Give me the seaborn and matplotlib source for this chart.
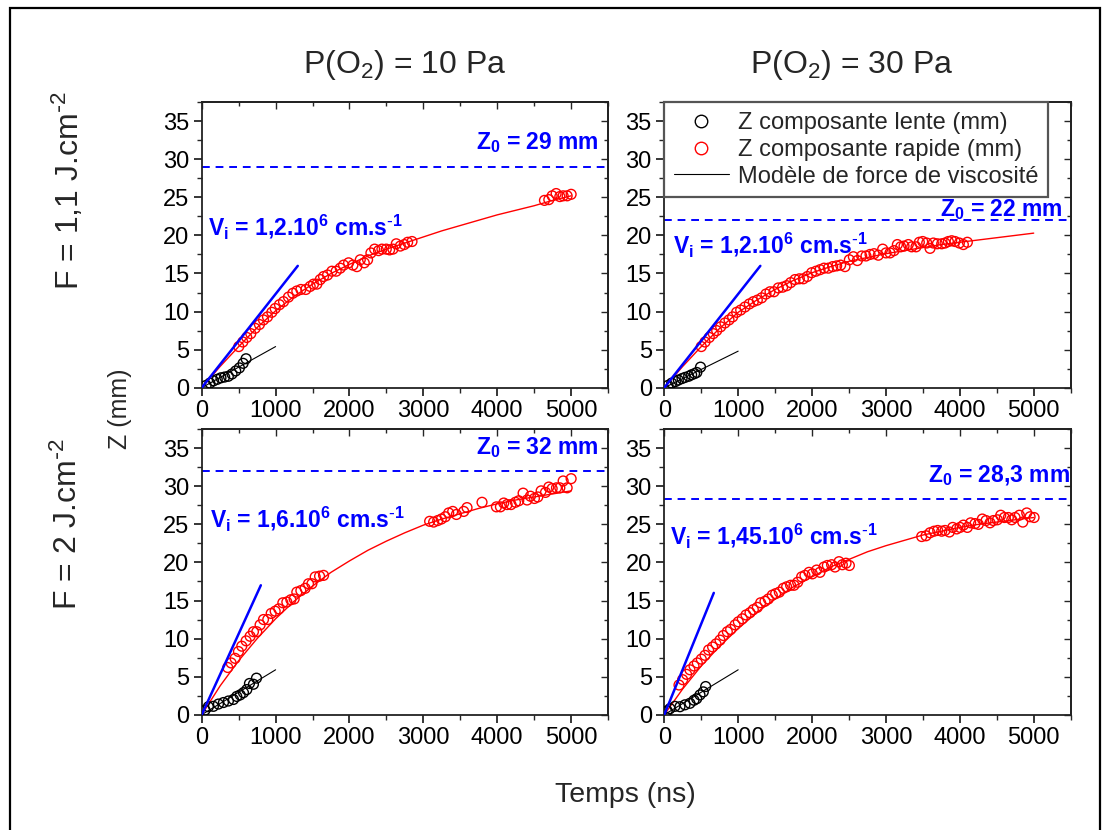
import matplotlib
matplotlib.use("Agg")
import matplotlib.pyplot as plt
from matplotlib.lines import Line2D
from matplotlib.patches import Rectangle
from matplotlib.ticker import MultipleLocator
import seaborn as sns

# values: time in ns, Z in mm
# panels: a = 10 Pa / 1,1 J.cm-2, b = 30 Pa / 1,1 J.cm-2,
#         c = 10 Pa / 2 J.cm-2,   d = 30 Pa / 2 J.cm-2

# slow component (open black circles)
a_lente_t = [60, 110, 160, 210, 260, 310, 360, 410, 460, 510, 560, 600]
a_lente_z = [0.3, 0.6, 0.9, 1.1, 1.3, 1.4, 1.5, 1.8, 2.2, 2.6, 3.2, 3.8]
b_lente_t = [50, 100, 150, 190, 240, 280, 330, 370, 410, 440, 490]
b_lente_z = [0.3, 0.6, 0.8, 1.0, 1.2, 1.35, 1.5, 1.7, 1.85, 2.0, 2.7]
c_lente_t = [45, 90, 158, 226, 294, 361, 429, 474, 520, 565, 610, 646, 700, 741]
c_lente_z = [0.6, 1.05, 1.1, 1.4, 1.6, 1.8, 2.0, 2.4, 2.6, 2.9, 3.3, 4.1, 4.0, 4.8]
d_lente_t = [40, 77, 144, 212, 280, 347, 402, 438, 483, 528, 560]
d_lente_z = [0.5, 0.8, 1.1, 1.05, 1.3, 1.5, 1.9, 2.1, 2.6, 3.0, 3.7]

# fast component (open red circles)
a_rapide_t = [501, 556, 610, 664, 723, 781, 836, 890, 949, 994, 1052, 1107, 1174,
              1233, 1287, 1342, 1409, 1468, 1513, 1558, 1604, 1649, 1703, 1762,
              1820, 1875, 1920, 1988, 2046, 2100, 2146, 2200, 2245, 2290, 2340,
              2394, 2439, 2498, 2543, 2588, 2633, 2688, 2742, 2787, 2846,
              4639, 4698, 4743, 4797, 4847, 4892, 4946, 5000]
a_rapide_z = [5.4, 6.0, 6.6, 7.1, 7.8, 8.3, 8.9, 9.3, 9.9, 10.4, 10.9, 11.3, 11.9,
              12.4, 12.7, 12.9, 12.9, 13.3, 13.6, 13.6, 14.2, 14.6, 14.8, 15.3,
              15.3, 15.7, 16.1, 16.4, 16.1, 15.9, 16.8, 16.4, 16.8, 17.7, 18.2,
              18.0, 18.2, 18.2, 18.1, 18.2, 18.9, 18.6, 18.8, 19.1, 19.2,
              24.6, 24.7, 25.2, 25.5, 25.1, 25.2, 25.2, 25.4]
b_rapide_t = [501, 551, 609, 663, 709, 763, 821, 876, 925, 979, 1034, 1092, 1151,
              1205, 1259, 1318, 1376, 1431, 1485, 1543, 1602, 1656, 1710, 1769,
              1828, 1882, 1936, 1995, 2053, 2108, 2162, 2220, 2279, 2333, 2387,
              2446, 2505, 2559, 2613, 2672, 2730, 2785, 2839, 2897, 2956, 3001,
              3055, 3109, 3155, 3200, 3245, 3303, 3349, 3407, 3452, 3498, 3552,
              3597, 3642, 3696, 3755, 3800, 3845, 3890, 3935, 3994, 4048, 4102]
b_rapide_z = [5.4, 6.0, 6.6, 7.1, 7.5, 8.0, 8.5, 8.9, 9.3, 9.9, 10.2, 10.6, 11.0,
              11.3, 11.5, 11.8, 12.3, 12.6, 12.6, 13.1, 13.2, 13.4, 13.8, 14.2,
              14.3, 14.3, 14.6, 15.1, 15.3, 15.5, 15.7, 15.7, 15.9, 16.0, 16.1,
              15.9, 16.8, 17.2, 16.7, 17.3, 17.3, 17.5, 17.6, 17.4, 18.2, 17.7,
              17.7, 18.0, 18.8, 18.5, 18.6, 18.8, 18.5, 18.5, 19.1, 19.2, 19.0,
              18.3, 19.0, 18.9, 18.9, 19.0, 19.2, 19.3, 19.2, 19.0, 18.8, 19.1]
c_rapide_t = [352, 398, 452, 497, 542, 601, 655, 700, 745, 790, 836, 894, 940,
              994, 1043, 1098, 1152, 1206, 1251, 1287, 1342, 1400, 1445, 1491,
              1536, 1595, 1649,
              3085, 3139, 3194, 3243, 3297, 3343, 3397, 3447, 3546, 3591, 3794,
              3989, 4043, 4088, 4133, 4187, 4246, 4291, 4350, 4404, 4449, 4503,
              4549, 4594, 4653, 4698, 4743, 4802, 4847, 4892, 4946, 5000]
c_rapide_z = [6.2, 6.8, 7.4, 8.3, 9.0, 9.7, 10.3, 10.9, 10.9, 11.8, 12.5, 12.5, 13.3,
              13.6, 13.9, 14.7, 14.8, 15.1, 15.2, 16.1, 16.3, 16.6, 17.2, 17.2,
              18.1, 18.2, 18.3,
              25.4, 25.3, 25.5, 25.7, 26.0, 26.5, 26.7, 26.3, 26.7, 27.2, 27.9,
              27.3, 27.3, 27.8, 27.6, 27.6, 27.9, 28.1, 29.1, 28.2, 28.7, 28.4,
              28.6, 29.4, 29.2, 29.9, 29.7, 29.8, 29.8, 30.7, 29.8, 31.0]
d_rapide_t = [199, 248, 302, 347, 402, 447, 501, 551, 600, 654, 700, 754, 799,
              853, 898, 958, 1002, 1056, 1106, 1160, 1205, 1259, 1304, 1363,
              1408, 1462, 1507, 1557, 1611, 1656, 1710, 1756, 1805, 1859, 1904,
              1959, 2004, 2062, 2107, 2162, 2207, 2265, 2311, 2365, 2410, 2460, 2505,
              3484, 3543, 3597, 3651, 3701, 3755, 3800, 3859, 3904, 3958, 4003,
              4048, 4102, 4147, 4206, 4251, 4305, 4355, 4409, 4454, 4508, 4554,
              4603, 4657, 4703, 4748, 4806, 4852, 4906, 4951, 5005]
d_rapide_z = [3.9, 4.6, 5.3, 5.9, 6.4, 6.8, 7.3, 7.8, 8.5, 8.9, 9.3, 9.8, 10.4,
              10.9, 11.2, 11.8, 12.2, 12.6, 13.1, 13.4, 13.8, 14.1, 14.7, 14.9,
              15.2, 15.7, 15.9, 16.1, 16.6, 16.8, 17.0, 17.0, 17.4, 18.1, 18.3,
              18.7, 18.5, 19.0, 18.7, 19.4, 19.6, 19.7, 19.4, 20.1, 19.7, 19.9, 19.6,
              23.4, 23.5, 23.9, 24.1, 24.2, 24.1, 24.2, 24.0, 24.6, 24.4, 24.6,
              24.9, 24.6, 25.2, 25.1, 25.0, 25.7, 25.5, 25.2, 25.5, 25.6, 26.2,
              25.9, 25.9, 25.6, 25.9, 26.2, 25.3, 26.5, 26.0, 25.9]

# viscous-force model curves (red), read every 250 ns
fit_t = [0, 250, 500, 750, 1000, 1250, 1500, 1750, 2000, 2250, 2500,
         2750, 3000, 3250, 3500, 3750, 4000, 4250, 4500, 4750, 5000]
a_fit_z = [0, 2.8, 5.4, 7.9, 10.1, 12.0, 13.6, 15.0, 16.2, 17.3, 18.2,
           19.0, 19.8, 20.6, 21.3, 22.0, 22.7, 23.3, 23.9, 24.6, 25.2]
b_fit_z = [0, 2.8, 5.4, 7.8, 9.9, 11.5, 12.9, 14.1, 15.1, 15.9, 16.6,
           17.1, 17.6, 18.0, 18.4, 18.8, 19.1, 19.4, 19.7, 20.0, 20.3]
c_fit_z = [0, 3.8, 7.1, 10.0, 12.6, 14.9, 16.9, 18.7, 20.2, 21.6, 22.8,
           23.9, 24.9, 25.7, 26.4, 27.1, 27.7, 28.2, 28.6, 29.0, 29.4]
d_fit_z = [0, 3.4, 6.4, 9.0, 11.3, 13.4, 15.2, 16.8, 18.1, 19.4, 20.4,
           21.4, 22.2, 22.9, 23.6, 24.1, 24.6, 25.0, 25.3, 25.6, 25.9]

# straight lines: initial velocity (blue) and slow component model (black)
vi_t = [[0, 1300], [0, 1300], [0, 800], [0, 670]]
vi_z = [[0, 16.0], [0, 16.0], [0, 17.0], [0, 16.0]]
slow_t = [[0, 1000], [0, 1000], [0, 1000], [0, 1000]]
slow_z = [[0, 5.4], [0, 4.8], [0, 5.9], [0, 5.9]]

z0_values = [29, 22, 32, 28.3]
z0_labels = ["29 mm", "22 mm", "32 mm", "28,3 mm"]
vi_labels = ["1,2", "1,2", "1,6", "1,45"]

col_titles = [r"P(O$_2$) = 10 Pa", r"P(O$_2$) = 30 Pa"]
row_titles = [r"F = 1,1 J.cm$^{\text{-}2}$", r"F = 2 J.cm$^{\text{-}2}$"]

lente_t = [a_lente_t, b_lente_t, c_lente_t, d_lente_t]
lente_z = [a_lente_z, b_lente_z, c_lente_z, d_lente_z]
rapide_t = [a_rapide_t, b_rapide_t, c_rapide_t, d_rapide_t]
rapide_z = [a_rapide_z, b_rapide_z, c_rapide_z, d_rapide_z]
fit_z = [a_fit_z, b_fit_z, c_fit_z, d_fit_z]

# label anchors (data coords): Z0 text right end, Vi text left start
z0_pos = [(5375, 31.3), (5400, 22.5), (5375, 34.25), (5490, 30.5)]
vi_pos = [(90, 20.0), (120, 17.7), (110, 24.7), (75, 22.4)]

sns.set_style("ticks")
plt.rcParams["font.family"] = ["Liberation Sans", "DejaVu Sans"]
plt.rcParams["mathtext.default"] = "regular"

fig = plt.figure(figsize=(11.09, 8.30), dpi=100)

# axes rectangles in figure fractions
lefts = [0.1819, 0.5990, 0.1819, 0.5990]
bottoms = [0.5329, 0.5329, 0.1389, 0.1389]
w, h = 0.3664, 0.3440

blue = "#0000ff"
for i in range(4):
    ax = fig.add_axes([lefts[i], bottoms[i], w, h])

    ax.axhline(z0_values[i], color=blue, lw=1.4, dashes=(4, 3), zorder=1)
    sns.lineplot(x=fit_t, y=fit_z[i], ax=ax, color="red", lw=1.0,
                 estimator=None, sort=False, zorder=2)
    sns.lineplot(x=slow_t[i], y=slow_z[i], ax=ax, color="black", lw=0.8,
                 estimator=None, sort=False, zorder=2)
    sns.lineplot(x=vi_t[i], y=vi_z[i], ax=ax, color=blue, lw=1.8,
                 estimator=None, sort=False, zorder=4)
    sns.scatterplot(x=rapide_t[i], y=rapide_z[i], ax=ax, marker="o", s=50,
                    facecolor="none", edgecolor="red", linewidth=1.0, zorder=3)
    sns.scatterplot(x=lente_t[i], y=lente_z[i], ax=ax, marker="o", s=50,
                    facecolor="none", edgecolor="black", linewidth=1.0, zorder=3)

    ax.text(z0_pos[i][0], z0_pos[i][1], "Z$_0$ = " + z0_labels[i], color=blue,
            fontsize=16.5, fontweight="bold", ha="right", va="baseline", zorder=5)
    ax.text(vi_pos[i][0], vi_pos[i][1],
            "V$_i$ = " + vi_labels[i] + r".10$^6$ cm.s$^{\text{-}1}$", color=blue,
            fontsize=16.5, fontweight="bold", ha="left", va="baseline", zorder=5)

    ax.set_xlim(0, 5500)
    ax.set_ylim(0, 37.5)
    ax.set_xticks([0, 1000, 2000, 3000, 4000, 5000])
    ax.set_yticks([0, 5, 10, 15, 20, 25, 30, 35])
    ax.xaxis.set_minor_locator(MultipleLocator(500))
    ax.yaxis.set_minor_locator(MultipleLocator(2.5))
    ax.tick_params(which="major", direction="out", length=6, width=1.1,
                   labelsize=17, pad=3, colors="black")
    ax.tick_params(which="minor", direction="out", length=3.5, width=1.0)
    ax.set_xlabel("")
    ax.set_ylabel("")
    for sp in ax.spines.values():
        sp.set_visible(True)
        sp.set_linewidth(1.3)
        sp.set_color("#222222")

    # inward ticks on the top and right frame
    top = ax.secondary_xaxis("top")
    top.set_xticks([0, 1000, 2000, 3000, 4000, 5000])
    top.xaxis.set_minor_locator(MultipleLocator(500))
    top.tick_params(which="both", direction="in", labeltop=False, width=1.0)
    top.tick_params(which="major", length=5)
    top.tick_params(which="minor", length=3)
    right = ax.secondary_yaxis("right")
    right.set_yticks([0, 5, 10, 15, 20, 25, 30, 35])
    right.yaxis.set_minor_locator(MultipleLocator(2.5))
    right.tick_params(which="both", direction="in", labelright=False, width=1.0)
    right.tick_params(which="major", length=5)
    right.tick_params(which="minor", length=3)
    for sec in (top, right):
        for sp in sec.spines.values():
            sp.set_linewidth(1.3)
            sp.set_color("#222222")

    if i == 1:
        handles = [
            Line2D([], [], ls="none", marker="o", ms=9, mfc="none", mec="black", mew=1.0),
            Line2D([], [], ls="none", marker="o", ms=9, mfc="none", mec="red", mew=1.0),
            Line2D([], [], color="black", lw=0.8),
        ]
        labels = ["Z composante lente (mm)", "Z composante rapide (mm)",
                  "Modèle de force de viscosité"]
        leg = ax.legend(handles, labels, loc="upper left", bbox_to_anchor=(0, 1),
                        borderaxespad=0, fontsize=17, frameon=True, fancybox=False,
                        edgecolor="#555555", framealpha=1, handlelength=2.3,
                        handletextpad=0.4, borderpad=0.42, labelspacing=0.2)
        leg.get_frame().set_linewidth(1.6)
        leg.set_zorder(10)

# column and row headers
fig.text(0.365, 0.9124, col_titles[0], fontsize=23, ha="center", va="baseline")
fig.text(0.768, 0.9124, col_titles[1], fontsize=23, ha="center", va="baseline")
fig.text(0.062, 0.770, row_titles[0], fontsize=23, rotation=90, ha="center", va="center")
fig.text(0.062, 0.369, row_titles[1], fontsize=23, rotation=90, ha="center", va="center")
fig.text(0.108, 0.508, "Z (mm)", fontsize=18, rotation=90, ha="center", va="center")
fig.text(0.5636, 0.034, "Temps (ns)", fontsize=20.5, ha="center", va="baseline")

# outer frame
fig.patches.append(Rectangle((0.009, -0.02), 0.983, 1.0104, transform=fig.transFigure,
                             fill=False, edgecolor="black", linewidth=1.6))

fig.savefig("out.png", dpi=100)
